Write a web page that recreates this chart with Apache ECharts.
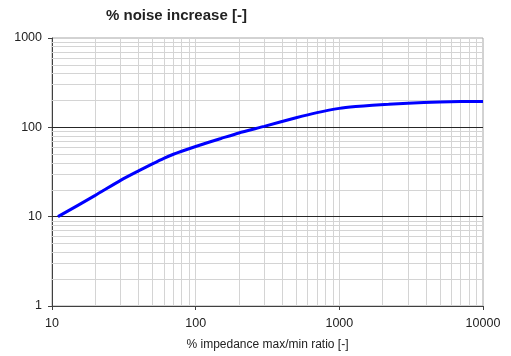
<!DOCTYPE html>
<html>
<head>
    <meta charset="utf-8">
    <title>ECharts</title>
    <script src="https://cdn.jsdelivr.net/npm/echarts@6/dist/echarts.min.js"></script>
</head>
<body style="margin:0;background:#fff;">
    <div id="main" style="width:511px;height:356px;"></div>
    <script type="text/javascript">
        // impedance max/min ratio [-] and noise increase [%]
        var ratio = [11, 20, 30, 40, 50, 60, 70, 100, 125, 150, 200, 300, 500, 700, 1000, 1300, 1700, 2200, 3000, 5000, 7000, 10000];
        var noiseIncrease = [10, 17.3, 25.5, 32.5, 39, 45, 50, 61, 68.5, 75, 86.5, 102.5, 128, 146, 163, 171, 177, 181, 186, 192, 194, 195];

        // grid lines
        var xMinorGrid = [20, 30, 40, 50, 60, 70, 80, 90, 100, 200, 300, 400, 500, 600, 700, 800, 900, 1000, 2000, 3000, 4000, 5000, 6000, 7000, 8000, 9000];
        var yMinorGrid = [2, 3, 4, 5, 6, 7, 8, 9, 20, 30, 40, 50, 60, 70, 80, 90, 200, 300, 400, 500, 600, 700, 800, 900];
        var yMajorGrid = [10, 100];

        var myChart = echarts.init(document.getElementById('main'));

        var lightLines = [];
        xMinorGrid.forEach(function (v) { lightLines.push({xAxis: v}); });
        yMinorGrid.forEach(function (v) { lightLines.push({yAxis: v}); });
        var darkLines = yMajorGrid.map(function (v) { return {yAxis: v}; });

        var font = '"Liberation Sans", Arial, sans-serif';
        var plain = function (v) { return String(v); };

        var option = {
            animation: false,
            title: {
                text: '% noise increase [-]',
                left: 101,
                top: 3,
                textStyle: {fontFamily: font, fontSize: 15, fontWeight: 'bold', color: '#222'}
            },
            grid: {
                left: 52,
                right: 28,
                top: 38,
                bottom: 49,
                show: true,
                borderColor: '#a6a6a6',
                borderWidth: 1
            },
            xAxis: {
                type: 'log',
                logBase: 10,
                min: 10,
                max: 10000,
                name: '% impedance max/min ratio [-]',
                nameLocation: 'middle',
                nameGap: 33,
                nameTextStyle: {fontFamily: font, fontSize: 12, color: '#222'},
                axisLine: {lineStyle: {color: '#404040', width: 1}},
                axisTick: {show: true, length: 4, lineStyle: {color: '#404040'}},
                axisLabel: {fontFamily: font, fontSize: 12.5, color: '#222', margin: 11, formatter: plain},
                splitLine: {show: false}
            },
            yAxis: {
                type: 'log',
                logBase: 10,
                min: 1,
                max: 1000,
                axisLine: {show: true, lineStyle: {color: '#404040', width: 1}},
                axisTick: {show: true, length: 4, lineStyle: {color: '#404040'}},
                axisLabel: {fontFamily: font, fontSize: 12.5, color: '#222', margin: 10, formatter: plain},
                splitLine: {show: false}
            },
            series: [
                {
                    type: 'line',
                    data: [],
                    z: 1,
                    silent: true,
                    markLine: {
                        silent: true,
                        z: 1,
                        symbol: 'none',
                        label: {show: false},
                        lineStyle: {color: '#d4d4d4', width: 1, type: 'solid'},
                        emphasis: {disabled: true},
                        data: lightLines
                    }
                },
                {
                    type: 'line',
                    data: [],
                    z: 2,
                    silent: true,
                    markLine: {
                        silent: true,
                        z: 2,
                        symbol: 'none',
                        label: {show: false},
                        lineStyle: {color: '#262626', width: 1, type: 'solid'},
                        emphasis: {disabled: true},
                        data: darkLines
                    }
                },
                {
                    type: 'line',
                    z: 10,
                    showSymbol: false,
                    smooth: 0.2,
                    lineStyle: {color: '#0000ff', width: 3},
                    data: ratio.map(function (x, i) { return [x, noiseIncrease[i]]; })
                }
            ]
        };
        myChart.setOption(option);
    </script>
</body>
</html>
